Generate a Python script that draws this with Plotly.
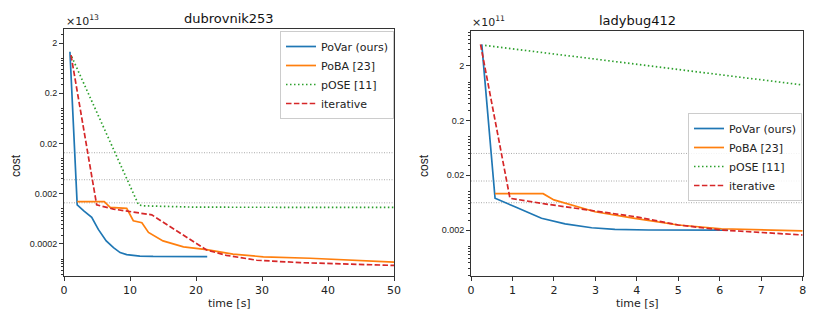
import plotly.graph_objects as go
from plotly.subplots import make_subplots

# ---------- данные: dubrovnik253 (cost в единицах 1e13) ----------
dub_povar_t = [0.9, 2.0, 3.0, 4.2, 5.2, 6.4, 7.5, 8.5, 9.5, 11.5, 13.5, 21.7]
dub_povar_c = [1.34, 0.0012, 0.00091, 0.00068, 0.00039, 0.00023, 0.000169,
               0.000135, 0.000123, 0.000115, 0.000113, 0.000112]

dub_poba_t = [2.0, 6.1, 7.0, 9.5, 10.5, 11.8, 12.8, 15.0, 18.1, 21.6, 25.6, 30.2, 37.3, 50.0]
dub_poba_c = [0.0014, 0.0014, 0.00107, 0.00102, 0.00058, 0.00053, 0.00034, 0.00023,
              0.000175, 0.000155, 0.000126, 0.000111, 0.000104, 0.0000873]

dub_pose_t = [1.17, 11.3, 12.0, 20.0, 50.0]
dub_pose_c = [1.07, 0.0012, 0.00115, 0.00108, 0.00107]

dub_iter_t = [1.06, 4.95, 7.5, 9.5, 13.3, 21.6, 24.6, 29.2, 35.8, 50.0]
dub_iter_c = [1.15, 0.0012, 0.00099, 0.00091, 0.00076, 0.000152, 0.000119,
              0.000095, 0.000085, 0.000075]

dub_ref_lines = [0.0131, 0.0038, 0.00132]

# ---------- данные: ladybug412 (cost в единицах 1e11) ----------
lady_povar_t = [0.26, 0.58, 1.06, 1.70, 2.27, 2.91, 3.47, 4.28, 6.2]
lady_povar_c = [4.9, 0.0076, 0.0053, 0.00327, 0.00258, 0.0022, 0.00206, 0.0020, 0.00199]

lady_poba_t = [0.58, 1.74, 2.0, 2.99, 3.95, 5.0, 6.04, 8.0]
lady_poba_c = [0.0092, 0.0092, 0.0071, 0.0043, 0.00326, 0.00247, 0.00211, 0.00192]

lady_pose_t = [0.34, 8.0]
lady_pose_c = [4.7, 0.89]

lady_iter_t = [0.23, 0.94, 1.78, 2.99, 3.96, 5.0, 6.04, 8.0]
lady_iter_c = [4.9, 0.0076, 0.006, 0.0045, 0.0035, 0.00247, 0.002, 0.00162]

lady_ref_lines = [0.050, 0.0157, 0.0063]

names = ["PoVar (ours)", "PoBA [23]", "pOSE [11]", "iterative"]
colors = ["#1f77b4", "#ff7f0e", "#2ca02c", "#d62728"]
dashes = ["solid", "solid", "1.5px,2.5px", "5.5px,2.4px"]

W, H = 830, 320


def px_x(p):
    return p / W


def px_y(p):
    return 1 - p / H


fig = make_subplots(rows=1, cols=2)

panels = [
    (1, "legend", [(dub_povar_t, dub_povar_c), (dub_poba_t, dub_poba_c),
                   (dub_pose_t, dub_pose_c), (dub_iter_t, dub_iter_c)]),
    (2, "legend2", [(lady_povar_t, lady_povar_c), (lady_poba_t, lady_poba_c),
                    (lady_pose_t, lady_pose_c), (lady_iter_t, lady_iter_c)]),
]
for col, leg, series in panels:
    for (t, c), name, color, dash in zip(series, names, colors, dashes):
        fig.add_trace(
            go.Scatter(x=t, y=c, mode="lines", name=name, legend=leg,
                       line=dict(color=color, width=1.7, dash=dash)),
            row=1, col=col
        )

# серые пунктирные горизонтали
for col, vals in [(1, dub_ref_lines), (2, lady_ref_lines)]:
    for v in vals:
        fig.add_hline(y=v, line=dict(color="#a0a0a0", width=0.9, dash="1px,1.5px"),
                      layer="below", row=1, col=col)


def minor_vals(lo, hi):
    out = []
    for k in range(lo, hi + 1):
        for m in range(1, 10):
            if m != 2:
                out.append(m * 10.0 ** k)
    return out


axis_common = dict(showline=True, mirror=True, linecolor="#333", linewidth=1,
                   showgrid=False, zeroline=False, ticks="outside", ticklen=4,
                   tickcolor="#333", automargin=False)

fig.update_xaxes(**axis_common, tickfont=dict(family="DejaVu Sans", size=11, color="#222"))
fig.update_yaxes(**axis_common, type="log",
                 tickfont=dict(family="Liberation Sans", size=9, color="#222"))

fig.update_xaxes(domain=[px_x(64), px_x(394)], range=[0, 50], tickvals=[0, 10, 20, 30, 40, 50],
                 row=1, col=1)
fig.update_xaxes(domain=[px_x(471), px_x(802.7)], range=[0, 8], tickvals=list(range(9)),
                 row=1, col=2)
fig.update_yaxes(domain=[px_y(276), px_y(29)], range=[-4.336, 0.58],
                 tickvals=[2, 0.2, 0.02, 0.002, 0.0002],
                 ticktext=["2", "0.2", "0.02", "0.002", "0.0002"],
                 minor=dict(tickvals=minor_vals(-5, 0), ticks="outside", ticklen=2,
                            tickcolor="#333"),
                 row=1, col=1)
fig.update_yaxes(domain=[px_y(276), px_y(31)], range=[-3.539, 0.935],
                 tickvals=[2, 0.2, 0.02, 0.002],
                 ticktext=["2", "0.2", "0.02", "0.002"],
                 minor=dict(tickvals=minor_vals(-4, 0), ticks="outside", ticklen=2,
                            tickcolor="#333"),
                 row=1, col=2)

ann = []
for cx, ty, title, expo, ex in [(229, 18, "dubrovnik253", "13", 64),
                                (637, 20, "ladybug412", "11", 470)]:
    ann.append(dict(x=px_x(cx), y=px_y(ty), text=title, showarrow=False,
                    xref="paper", yref="paper", xanchor="center", yanchor="middle",
                    font=dict(family="DejaVu Sans", size=13, color="#111")))
    ann.append(dict(x=px_x(ex), y=px_y(ty + 2), text="×10<sup>" + expo + "</sup>",
                    showarrow=False, xref="paper", yref="paper", xanchor="left",
                    yanchor="middle", font=dict(family="DejaVu Sans", size=11, color="#222")))
    ann.append(dict(x=px_x(cx), y=px_y(303), text="time [s]", showarrow=False,
                    xref="paper", yref="paper", xanchor="center", yanchor="middle",
                    font=dict(family="DejaVu Sans", size=11, color="#222")))
for lx in [16, 424]:
    ann.append(dict(x=px_x(lx), y=px_y(166), text="cost", showarrow=False, textangle=-90,
                    xref="paper", yref="paper", xanchor="center", yanchor="middle",
                    font=dict(family="Liberation Sans", size=12, color="#222")))

legend_style = dict(bgcolor="rgba(255,255,255,0.85)", bordercolor="#cccccc", borderwidth=1,
                    font=dict(family="DejaVu Sans", size=11, color="#222"),
                    xanchor="left", yanchor="top", tracegroupgap=0)

fig.update_layout(
    width=W, height=H,
    margin=dict(l=0, r=0, t=0, b=0),
    paper_bgcolor="white", plot_bgcolor="white",
    showlegend=True,
    legend=dict(x=px_x(280), y=px_y(31), **legend_style),
    legend2=dict(x=px_x(688), y=px_y(113), **legend_style),
    annotations=ann,
)

# убираем стандартный отступ body в 8px и панель инструментов
fig.write_html("out.html", config={"displayModeBar": False},
               post_script="document.body.style.margin='0';")
